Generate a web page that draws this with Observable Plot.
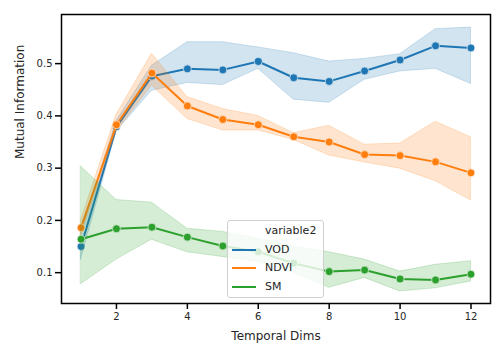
<!DOCTYPE html>
<html>
<head>
<meta charset="utf-8">
<script src="https://cdn.jsdelivr.net/npm/d3@7"></script>
<script src="https://cdn.jsdelivr.net/npm/@observablehq/plot@0.6"></script>
<style>
  html, body { margin: 0; padding: 0; background: #fff; }
  #wrap { position: relative; width: 504px; height: 360px; font-family: "DejaVu Sans", sans-serif; }
  #legend { position: absolute; left: 227px; top: 220px; width: 97px; height: 78px;
    background: rgba(255,255,255,0.8); border: 1px solid #d0d0d0; border-radius: 3px; box-sizing: border-box; }
  .lg-row { position: absolute; left: 0; height: 14px; font-size: 11px; color: #262626; line-height: 14px; }
  .lg-sw { position: absolute; left: 4px; top: 6px; width: 24px; height: 2px; }
  .lg-tx { position: absolute; left: 37px; top: 0; white-space: nowrap; }
</style>
</head>
<body>
<div id="wrap"><div id="chart"></div><div id="legend"></div></div>
<script>
const dims = [1, 2, 3, 4, 5, 6, 7, 8, 9, 10, 11, 12];
const seriesNames = ["VOD", "NDVI", "SM"];
const seriesColors = ["#1f77b4", "#ff7f0e", "#2ca02c"];
const legendTitle = "variable2";

const vod   = [0.150, 0.379, 0.476, 0.490, 0.488, 0.504, 0.473, 0.466, 0.486, 0.507, 0.534, 0.530];
const vodLo = [0.125, 0.370, 0.448, 0.463, 0.459, 0.490, 0.431, 0.425, 0.469, 0.485, 0.490, 0.461];
const vodHi = [0.175, 0.390, 0.496, 0.541, 0.541, 0.531, 0.520, 0.504, 0.509, 0.518, 0.566, 0.569];

const ndvi   = [0.186, 0.383, 0.482, 0.419, 0.393, 0.383, 0.360, 0.350, 0.326, 0.324, 0.312, 0.291];
const ndviLo = [0.170, 0.370, 0.458, 0.394, 0.372, 0.372, 0.354, 0.324, 0.311, 0.299, 0.275, 0.238];
const ndviHi = [0.200, 0.402, 0.519, 0.436, 0.413, 0.400, 0.367, 0.381, 0.345, 0.347, 0.389, 0.359];

const sm   = [0.164, 0.184, 0.187, 0.168, 0.151, 0.140, 0.118, 0.102, 0.105, 0.088, 0.086, 0.097];
const smLo = [0.078, 0.125, 0.163, 0.139, 0.130, 0.120, 0.100, 0.071, 0.090, 0.064, 0.070, 0.083];
const smHi = [0.303, 0.239, 0.234, 0.184, 0.178, 0.165, 0.150, 0.139, 0.125, 0.102, 0.115, 0.122];

const yTicks = [0.1, 0.2, 0.3, 0.4, 0.5];
const xTicks = [2, 4, 6, 8, 10, 12];

const groups = [[vod, vodLo, vodHi], [ndvi, ndviLo, ndviHi], [sm, smLo, smHi]];
const table = [];
seriesNames.forEach((s, i) => {
  dims.forEach((d, j) => {
    table.push({series: s, dim: d, mi: groups[i][0][j], lo: groups[i][1][j], hi: groups[i][2][j]});
  });
});

const marks = [];
seriesNames.forEach(s => {
  const sub = table.filter(r => r.series === s);
  marks.push(Plot.line(sub, {x: "dim", y: "mi", stroke: "series", strokeWidth: 2}));
  marks.push(Plot.dot(sub, {x: "dim", y: "mi", fill: "series", stroke: "white", strokeWidth: 0.8, r: 4}));
  marks.push(Plot.areaY(sub, {x: "dim", y1: "lo", y2: "hi", fill: "series", fillOpacity: 0.2, stroke: "series", strokeOpacity: 0.2, strokeWidth: 1}));
});

const chart = Plot.plot({
  width: 504, height: 360,
  marginLeft: 61, marginRight: 14, marginTop: 14, marginBottom: 57,
  style: {fontFamily: "DejaVu Sans, sans-serif", fontSize: "10px", color: "#262626", background: "white"},
  x: {domain: [0.45, 12.55]},
  y: {domain: [0.041, 0.594]},
  color: {domain: seriesNames, range: seriesColors},
  marks: [
    ...marks,
    Plot.axisX({ticks: xTicks, tickSize: 6, strokeWidth: 1.5, tickPadding: 3, label: null, stroke: "black"}),
    Plot.axisY({ticks: yTicks, tickSize: 6, strokeWidth: 1.5, tickPadding: 3, tickFormat: d3.format(".1f"), label: null, stroke: "black"}),
    Plot.text(["Temporal Dims"], {frameAnchor: "bottom", dy: 36, fontSize: 12, fill: "#262626"}),
    Plot.text(["Mutual Information"], {frameAnchor: "left", dx: -41, rotate: -90, fontSize: 12, fill: "#262626"}),
    Plot.frame({stroke: "black", strokeWidth: 1.5})
  ]
});
document.getElementById("chart").appendChild(chart);

const lg = document.getElementById("legend");
const rowsTop = [3, 21.5, 40, 58.5];
const titleRow = document.createElement("div");
titleRow.className = "lg-row";
titleRow.style.top = rowsTop[0] + "px";
titleRow.innerHTML = '<span class="lg-tx">' + legendTitle + '</span>';
lg.appendChild(titleRow);
seriesNames.forEach((s, i) => {
  const row = document.createElement("div");
  row.className = "lg-row";
  row.style.top = rowsTop[i + 1] + "px";
  row.innerHTML = '<span class="lg-sw" style="background:' + seriesColors[i] + '"></span><span class="lg-tx">' + s + '</span>';
  lg.appendChild(row);
});
</script>
</body>
</html>
